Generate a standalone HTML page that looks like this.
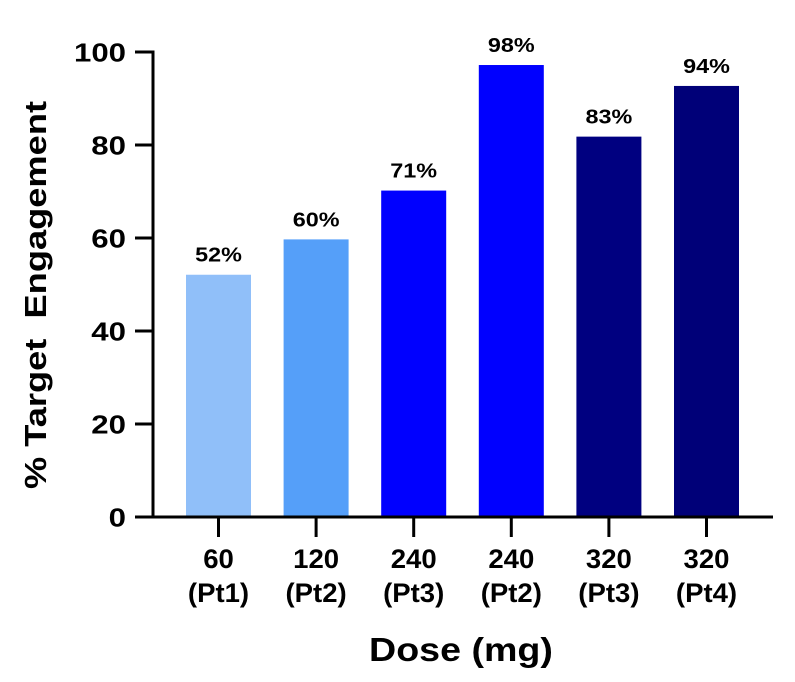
<!DOCTYPE html>
<html><head><meta charset="utf-8"><style>
body{margin:0;background:#fff;}
svg{display:block;font-family:"Liberation Sans",Arial,sans-serif;font-weight:bold;}
</style></head><body>
<svg id="chart" width="795" height="682"></svg>
<script>
const categories = ["60|(Pt1)","120|(Pt2)","240|(Pt3)","240|(Pt2)","320|(Pt3)","320|(Pt4)"];
const values = [52.1, 59.7, 70.2, 97.2, 81.8, 92.7];
const valueLabels = ["52%","60%","71%","98%","83%","94%"];
const barColors = ["#90bff9","#559ff9","#0000ff","#0000ff","#000080","#000078"];
const yTicks = [0,20,40,60,80,100];

const NS="http://www.w3.org/2000/svg";
const svg=document.getElementById('chart');
const y0=517, y1=52, xAxis=153, xEnd=773;
const yScale=v=>y0-(v/100)*(y0-y1);
const firstCenter=218.5, step=97.6, barW=65;
const xScale=i=>firstCenter+i*step;
function mk(tag,attrs,text){const e=document.createElementNS(NS,tag);for(const k in attrs)e.setAttribute(k,attrs[k]);if(text!==undefined)e.textContent=text;svg.appendChild(e);return e;}
function txt(x,y,size,sx,anchor,s,rot){
  const tr='translate('+x+','+y+')'+(rot?' rotate('+rot+')':'')+' scale('+sx+',1)';
  return mk('text',{x:0,y:0,'text-anchor':anchor,'font-size':size,transform:tr},s);
}

values.forEach((v,i)=>{
  const cx=xScale(i);
  const r=mk('rect',{x:cx-barW/2,y:yScale(v),width:barW,height:y0-yScale(v),fill:barColors[i]});
  
  
  const t=txt(cx,yScale(v)-13,20,1.17,'middle',valueLabels[i]);
  
  
  const tk=mk('line',{x1:cx,x2:cx,y1:y0,y2:537,stroke:'#000','stroke-width':3});
  
  
  const parts=categories[i].split('|');
  const l1=txt(cx,568,27,1.02,'middle',parts[0]);
  
  
  const l2=txt(cx,602,27,1.02,'middle',parts[1]);
  
  
});

yTicks.forEach(v=>{
  const yy=yScale(v);
  const tk=mk('line',{x1:135,x2:xAxis,y1:yy,y2:yy,stroke:'#000','stroke-width':3});
  
  
  const t=txt(126,yy+9.5,26,1.2,'end',String(v));
  
  
});

const ya=mk('line',{x1:xAxis,x2:xAxis,y1:y1-1.5,y2:y0+1.5,stroke:'#000','stroke-width':3});


const xa=mk('line',{x1:xAxis-1.5,x2:xEnd,y1:y0,y2:y0,stroke:'#000','stroke-width':3});



const yt=txt(46,295,31,1.17,'middle','% Target\u00a0\u00a0Engagement',-90);


const xt=txt(461,661,33,1.14,'middle','Dose (mg)');


</script>
</body></html>
